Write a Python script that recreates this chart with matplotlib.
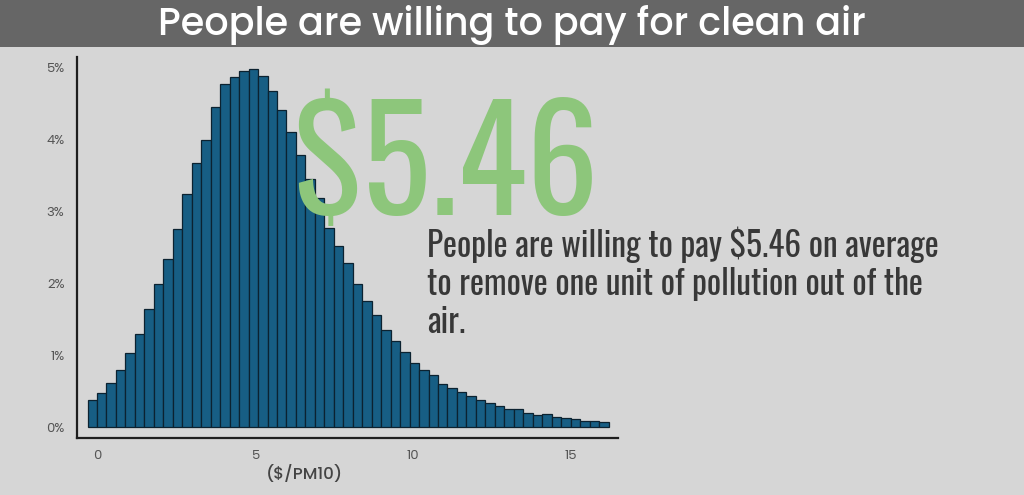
import numpy as np
import matplotlib
matplotlib.use("Agg")
import matplotlib.pyplot as plt
from matplotlib.patches import Rectangle

# ---- data ----
title = "People are willing to pay for clean air"
big_value = "$5.46"
caption_lines = ["People are willing to pay $5.46 on average",
                 "to remove one unit of pollution out of the",
                 "air."]
x_label = "($/PM10)"
bin_start = -0.3
bin_width = 0.3
shares = [0.38, 0.48, 0.62, 0.79, 1.04, 1.30, 1.64, 1.99, 2.34, 2.76,
          3.24, 3.68, 4.00, 4.46, 4.77, 4.87, 4.96, 4.99, 4.89, 4.68,
          4.41, 4.10, 3.79, 3.45, 3.19, 2.77, 2.52, 2.29, 1.99, 1.76,
          1.56, 1.36, 1.20, 1.05, 0.89, 0.80, 0.73, 0.60, 0.55, 0.49,
          0.43, 0.38, 0.34, 0.29, 0.26, 0.25, 0.20, 0.17, 0.19, 0.15,
          0.13, 0.11, 0.09, 0.09, 0.07]
x_ticks = [0, 5, 10, 15]
y_ticks = [0, 1, 2, 3, 4, 5]

BG = "#d6d6d6"
BAND = "#666666"
BAR = "#175e84"
EDGE = "#0c2230"
GREEN = "#8dc67b"

narrow = ["Oswald", "DejaVu Sans"]
geo = ["Poppins", "Lato", "DejaVu Sans"]

W, H = 1024, 495
fig = plt.figure(figsize=(W / 100, H / 100), dpi=100, facecolor=BG)

# title band
fig.patches.append(Rectangle((0, 1 - 47 / H), 1, 47 / H, transform=fig.transFigure,
                             facecolor=BAND, edgecolor="none", zorder=0))
fig.text(0.5, 1 - 25 / H, title, ha="center", va="center", color="white",
         fontsize=27.5, family=geo, fontweight="medium")

ax = fig.add_axes([77 / W, 1 - 437.5 / H, (618 - 77) / W, (437.5 - 57) / H])
ax.set_facecolor("none")

lefts = bin_start + bin_width * np.arange(len(shares))
ax.bar(lefts, shares, width=bin_width, align="edge", color=BAR,
       edgecolor=EDGE, linewidth=0.9, zorder=2)

ax.set_xlim(-0.634, 16.5)
ax.set_ylim(-0.142, 5.15)
for s in ["top", "right"]:
    ax.spines[s].set_visible(False)
for s in ["left", "bottom"]:
    ax.spines[s].set_color("#1e1e1e")
    ax.spines[s].set_linewidth(1.6)

ax.set_xticks(x_ticks)
ax.set_xticklabels([str(v) for v in x_ticks], family=geo, fontsize=9.5, color="#555555")
ax.set_yticks(y_ticks)
ax.set_yticklabels([f"{v}%" for v in y_ticks], family=geo, fontsize=9.5, color="#555555")
ax.tick_params(axis="both", length=0)
ax.tick_params(axis="x", pad=9)
ax.tick_params(axis="y", pad=9)

fig.text(305 / W, 1 - 474 / H, x_label, ha="center", va="center",
         fontsize=12, family=geo, fontweight="medium", color="#444444")

# big value
fig.text(292 / W, 1 - 215 / H, big_value, ha="left", va="baseline",
         fontsize=103, family=narrow, color=GREEN, zorder=1)

# caption
for i, line in enumerate(caption_lines):
    fig.text(427 / W, 1 - (257 + 38 * i) / H, line, ha="left", va="baseline",
             fontsize=24, family=narrow, fontweight="light", color="#383838")

fig.savefig("out.png", dpi=100, facecolor=BG)
